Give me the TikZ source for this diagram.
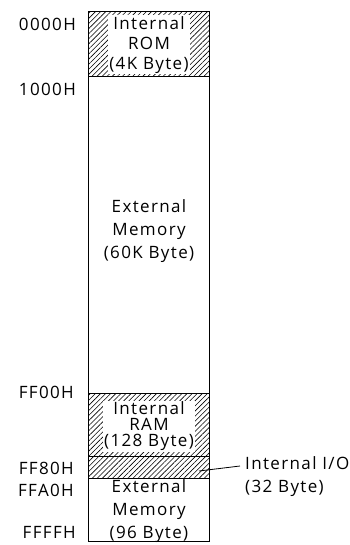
\documentclass[tikz,border=0pt]{standalone}
\usepackage{fontspec}
\setmainfont[LetterSpace=8]{Open Sans}
\usetikzlibrary{patterns.meta}
\begin{document}
\begin{tikzpicture}[x=1pt, y=-1pt, font=\fontsize{17}{20}\selectfont,
    area/.style={draw, line width=1.2pt, anchor=north west, inner sep=0pt, minimum width=121pt},
    hatched/.style={pattern={Lines[angle=45, distance=3.6pt, line width=0.6pt]}},
    label/.style={fill=white, align=center, inner sep=1pt},
    addr/.style={anchor=east, inner sep=0pt}]
    \useasboundingbox (0,0) rectangle (349,545);
    % memory blocks
    \node[area, hatched, minimum height=65pt]  (rom)  at (88,11)  {};
    \node[area, minimum height=317pt]          (ext)  at (88,76)  {};
    \node[area, hatched, minimum height=63pt]  (ram)  at (88,393) {};
    \node[area, hatched, minimum height=22pt]  (io)   at (88,456) {};
    \node[area, minimum height=63pt]           (extb) at (88,478) {};
    % block texts
    \node[label] (romtxt) at (149,45) {Internal\\ROM\\(4K Byte)};
    \node[label, font=\fontsize{17}{23}\selectfont] (exttxt) at (149,231) {External\\Memory\\(60K Byte)};
    \node[label, font=\fontsize{17}{16}\selectfont] (ramtxt) at (149,426) {Internal\\RAM\\(128 Byte)};
    \node[label, fill=none, font=\fontsize{17}{23}\selectfont] (extbtxt) at (149,511) {External\\Memory\\(96 Byte)};
    % addresses
    \node[addr] (a0) at (76,24)  {0000H};
    \node[addr] (a1) at (76,89)  {1000H};
    \node[addr] (a2) at (74,392) {FF00H};
    \node[addr] (a3) at (74,468) {FF80H};
    \node[addr] (a4) at (74,490) {FFA0H};
    \node[addr] (a5) at (76,532) {FFFFH};
    % internal I/O
    \coordinate (iopt) at (199,471);
    \node[anchor=west, inner sep=0pt] (iolbl) at (245,463) {Internal I/O};
    \node[anchor=west, inner sep=0pt] (iosz)  at (245,488) {(32 Byte)};
    \draw[line width=0.8pt] (iopt) -- ([xshift=-5pt, yshift=-3pt]iolbl.west);
\end{tikzpicture}
\end{document}
